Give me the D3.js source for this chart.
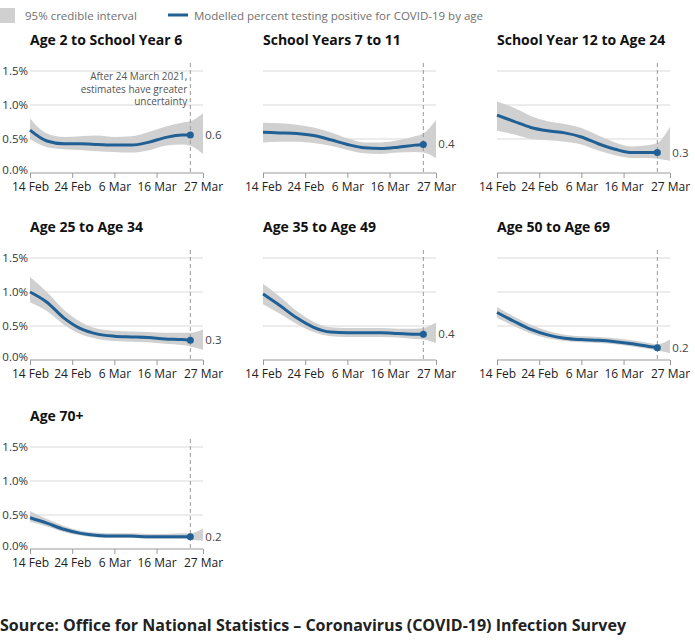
<!DOCTYPE html>
<html><head><meta charset="utf-8">
<script src="https://cdn.jsdelivr.net/npm/d3@7"></script>
<style>
body{margin:0;background:#fff;font-family:"Open Sans",sans-serif}
</style></head>
<body><svg id="chart" width="695" height="641"></svg>
<script>
const days = [0, 4, 8, 12, 16, 20, 24, 28, 32, 36, 38, 41]
const titles = ['Age 2 to School Year 6', 'School Years 7 to 11', 'School Year 12 to Age 24',
  'Age 25 to Age 34', 'Age 35 to Age 49', 'Age 50 to Age 69', 'Age 70+']
const endLabels = ['0.6', '0.4', '0.3', '0.3', '0.4', '0.2', '0.2']
// central estimate (null after 24 Mar)
const mid = [
  [0.63, 0.47, 0.43, 0.43, 0.42, 0.41, 0.41, 0.45, 0.52, 0.56, 0.56, null],
  [0.60, 0.59, 0.58, 0.55, 0.49, 0.42, 0.37, 0.36, 0.38, 0.41, 0.42, null],
  [0.85, 0.76, 0.67, 0.62, 0.59, 0.53, 0.43, 0.35, 0.30, 0.30, 0.30, null],
  [1.00, 0.85, 0.62, 0.46, 0.38, 0.35, 0.34, 0.33, 0.31, 0.30, 0.29, null],
  [0.97, 0.80, 0.62, 0.48, 0.41, 0.40, 0.40, 0.40, 0.39, 0.38, 0.38, null],
  [0.70, 0.57, 0.45, 0.37, 0.32, 0.30, 0.29, 0.27, 0.24, 0.20, 0.18, null],
  [0.46, 0.38, 0.29, 0.23, 0.20, 0.19, 0.19, 0.18, 0.18, 0.18, 0.18, null],
]
const lower = [
  [0.50, 0.38, 0.35, 0.34, 0.32, 0.31, 0.30, 0.33, 0.40, 0.42, 0.40, 0.28],
  [0.45, 0.46, 0.46, 0.44, 0.40, 0.34, 0.29, 0.28, 0.30, 0.31, 0.30, 0.22],
  [0.62, 0.57, 0.50, 0.48, 0.46, 0.42, 0.33, 0.26, 0.22, 0.22, 0.21, 0.18],
  [0.85, 0.72, 0.52, 0.38, 0.31, 0.28, 0.27, 0.26, 0.24, 0.22, 0.20, 0.15],
  [0.82, 0.68, 0.53, 0.41, 0.35, 0.34, 0.34, 0.34, 0.33, 0.31, 0.30, 0.25],
  [0.62, 0.50, 0.39, 0.32, 0.28, 0.26, 0.25, 0.23, 0.20, 0.16, 0.14, 0.10],
  [0.40, 0.33, 0.25, 0.20, 0.17, 0.16, 0.16, 0.15, 0.15, 0.15, 0.14, 0.12],
]
const upper = [
  [0.80, 0.58, 0.53, 0.54, 0.55, 0.53, 0.54, 0.60, 0.68, 0.74, 0.76, 0.88],
  [0.74, 0.73, 0.71, 0.67, 0.60, 0.51, 0.45, 0.45, 0.48, 0.54, 0.58, 0.78],
  [1.05, 0.96, 0.84, 0.76, 0.72, 0.66, 0.55, 0.45, 0.39, 0.41, 0.44, 0.68],
  [1.22, 1.00, 0.74, 0.56, 0.46, 0.43, 0.42, 0.41, 0.40, 0.40, 0.40, 0.45],
  [1.12, 0.93, 0.72, 0.56, 0.48, 0.47, 0.47, 0.47, 0.46, 0.46, 0.47, 0.55],
  [0.78, 0.64, 0.52, 0.43, 0.37, 0.35, 0.34, 0.32, 0.29, 0.25, 0.23, 0.30],
  [0.56, 0.44, 0.34, 0.27, 0.24, 0.23, 0.23, 0.22, 0.22, 0.23, 0.23, 0.30],
]
const tickDays = [0, 10, 20, 30, 41]
const tickLabels = ['14 Feb', '24 Feb', '6 Mar', '16 Mar', '27 Mar']
const yTicks = [0, 0.5, 1.0, 1.5]
const cutoffDay = 38

const svg = d3.select('#chart')
const blue = '#206095', grey = '#d0d0d0'

// legend
svg.append('rect').attr('x', 0).attr('y', 8).attr('width', 15).attr('height', 15).attr('fill', grey)
svg.append('text').attr('x', 25).attr('y', 20).attr('font-size', 11.5).attr('fill', '#707070').text('95% credible interval')
svg.append('line').attr('x1', 168).attr('x2', 188).attr('y1', 15).attr('y2', 15).attr('stroke', blue).attr('stroke-width', 3)
svg.append('text').attr('x', 194).attr('y', 20).attr('font-size', 11.5).attr('fill', '#707070').text('Modelled percent testing positive for COVID-19 by age')

const colX = [30, 263, 497], rowY = [71, 258, 447]
const w = 173, h = 102

titles.forEach((t, i) => {
  const x0 = colX[i % 3], y0 = rowY[Math.floor(i / 3)]
  const g = svg.append('g').attr('transform', `translate(${x0},${y0})`)
  const x = d3.scaleLinear().domain([0, 41]).range([0, w])
  const y = d3.scaleLinear().domain([0, 1.5]).range([h, 0])

  g.append('text').attr('x', 0).attr('y', -26).attr('font-size', 14).attr('font-weight', 700).attr('fill', '#111').text(t)

  g.selectAll('.grid').data(yTicks).join('line')
    .attr('x1', 0).attr('x2', w).attr('y1', d => y(d)).attr('y2', d => y(d))
    .attr('stroke', d => d === 0 ? '#999' : '#d9d9d9')
  if (i % 3 === 0) {
    g.selectAll('.yl').data(yTicks).join('text')
      .attr('x', -2).attr('y', d => y(d) + (d === 0 ? 1 : 4)).attr('text-anchor', 'end')
      .attr('font-size', 11.5).attr('fill', '#333').text(d => d.toFixed(1) + '%')
  }

  const xa = g.append('g').attr('transform', `translate(0,${h})`)
    .call(d3.axisBottom(x).tickValues(tickDays).tickSize(5).tickFormat((d, j) => tickLabels[j]))
  xa.select('.domain').remove()
  xa.selectAll('line').attr('stroke', '#999')
  xa.selectAll('text').attr('font-size', 12).attr('font-family', 'Open Sans').attr('fill', '#222').attr('dy', '0.8em')

  const rows = days.map((d, j) => ({ d, lo: lower[i][j], hi: upper[i][j], m: mid[i][j] }))
  g.append('path').datum(rows)
    .attr('d', d3.area().curve(d3.curveMonotoneX).x(r => x(r.d)).y0(r => y(r.lo)).y1(r => y(r.hi)))
    .attr('fill', grey)

  g.append('line').attr('x1', x(cutoffDay)).attr('x2', x(cutoffDay)).attr('y1', -8).attr('y2', h)
    .attr('stroke', '#999').attr('stroke-dasharray', '4,3')

  const lineRows = rows.filter(r => r.m != null)
  g.append('path').datum(lineRows)
    .attr('d', d3.line().curve(d3.curveMonotoneX).x(r => x(r.d)).y(r => y(r.m)))
    .attr('fill', 'none').attr('stroke', blue).attr('stroke-width', 3)
  const last = lineRows[lineRows.length - 1]
  g.append('circle').attr('cx', x(last.d)).attr('cy', y(last.m)).attr('r', 3.5).attr('fill', blue)
  g.append('text').attr('x', x(last.d) + 15).attr('y', y(last.m) + 4)
    .attr('font-size', 11.5).attr('fill', '#444').text(endLabels[i])

  if (i === 0) {
    ['After 24 March 2021,', 'estimates have greater', 'uncertainty'].forEach((s, k) => {
      g.append('text').attr('x', x(cutoffDay) - 3).attr('y', 9 + k * 12.5).attr('text-anchor', 'end')
        .attr('font-size', 10).attr('fill', '#555').text(s)
    })
  }
})

svg.append('text').attr('x', 0).attr('y', 631).attr('font-size', 16).attr('font-weight', 700)
  .attr('fill', '#222').text('Source: Office for National Statistics – Coronavirus (COVID-19) Infection Survey')
</script></body></html>
